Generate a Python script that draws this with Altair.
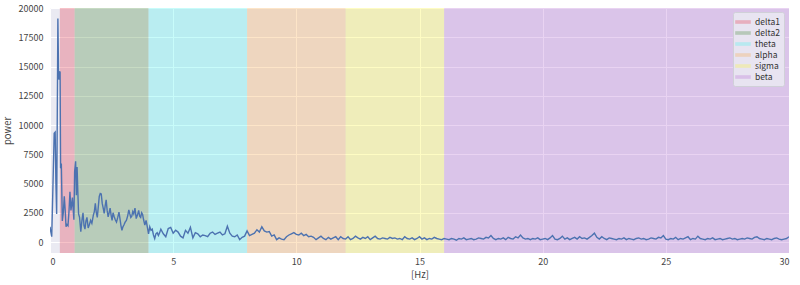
import altair as alt
import pandas as pd
import numpy as np

# ---- bands ----
band_names = ["delta1", "delta2", "theta", "alpha", "sigma", "beta"]
band_start = [0.4, 1, 4, 8, 12, 16]
band_end = [1, 4, 8, 12, 16, 30]
band_colors = ["#E6364A", "#478937", "#4AF4EF", "#F7A848", "#FDF437", "#B56CD4"]

# ---- spectrum: low frequencies (irregular sampling) ----
low_freq = [0.0, 0.03, 0.07, 0.12, 0.17, 0.21, 0.24, 0.27, 0.32, 0.35, 0.37, 0.39,
            0.41, 0.43, 0.46, 0.5, 0.54, 0.58, 0.62, 0.65, 0.69, 0.73, 0.77, 0.81,
            0.85, 0.88, 0.91, 0.94, 0.97, 1.0, 1.04, 1.07, 1.1, 1.13, 1.16]
low_power = [1300, 900, 450, 4800, 9300, 9400, 5000, 2400, 19100, 14000, 13900, 14600,
             14500, 6300, 6700, 1800, 2500, 3900, 2600, 1300, 1500, 1400, 2600, 4300,
             2700, 3200, 3800, 2800, 1900, 6000, 6900, 4000, 6400, 4300, 2400]

delta2_freq = [1.2, 1.25, 1.3, 1.34, 1.38, 1.42, 1.46, 1.5, 1.55, 1.6, 1.65, 1.7, 1.76,
               1.8, 1.84, 1.88, 1.92, 1.96, 2.0, 2.04, 2.08, 2.12, 2.16, 2.2, 2.24, 2.28,
               2.32, 2.36, 2.4, 2.44, 2.48, 2.52, 2.56, 2.6, 2.65, 2.7, 2.75, 2.8, 2.84,
               2.88, 2.92, 2.96, 3.0, 3.05, 3.1, 3.15, 3.2, 3.24, 3.28, 3.32, 3.36, 3.4,
               3.45, 3.5, 3.55, 3.6, 3.64, 3.68, 3.72, 3.76, 3.8, 3.85, 3.9, 3.95, 4.0,
               4.05, 4.1, 4.15, 4.2, 4.25, 4.3, 4.35, 4.4, 4.45]
delta2_power = [2100, 880, 1900, 2500, 1400, 1100, 1800, 2100, 1200, 1500, 1850, 1600, 2300,
                2600, 3300, 2500, 2100, 3000, 3900, 4150, 4100, 3300, 2900, 2450, 3100, 3600,
                2700, 2150, 2500, 2900, 2300, 1850, 2500, 2200, 1900, 1700, 2100, 2550, 2000,
                1400, 1000, 1300, 1450, 1700, 1850, 2200, 2750, 2400, 2100, 2200, 2600, 2400,
                2900, 2000, 2300, 2700, 2200, 2100, 2500, 2350, 1900, 1450, 1850, 1300, 700,
                1300, 1000, 1100, 600, 300, 700, 800, 550, 800]

# ---- 4.5 .. 30 Hz at 0.1 Hz ----
theta_power = [1100, 700, 450, 1150, 1250, 750, 1000, 850, 500, 350,
               1000, 750, 1250, 350, 800, 700, 450, 600, 550, 450,
               750, 850, 650, 750, 850, 600, 700, 1350, 750, 500,
               450, 600, 200, 400, 500, 950]
alpha_power = [550, 650, 750, 1050, 850, 1300, 950, 850, 900, 500,
               600, 200, 350, 250, 200, 450, 600, 700, 800, 650,
               600, 750, 550, 650, 450, 500, 400, 200, 350, 500,
               300, 200, 400, 250, 350, 450, 200, 450, 300, 250]
sigma_power = [450, 200, 300, 500, 350, 250, 400, 300, 450, 200,
               350, 500, 300, 250, 350, 300, 250, 400, 300, 350,
               250, 300, 200, 450, 300, 250, 350, 200, 300, 450,
               250, 350, 200, 300, 250, 400, 300, 250, 200, 300]
beta_power = [250, 200, 300, 250, 150, 300, 250, 350, 200, 250,
              300, 200, 250, 350, 300, 250, 400, 350, 550, 300,
              200, 300, 250, 350, 200, 400, 300, 250, 450, 350,
              600, 350, 250, 300, 200, 300, 250, 350, 200, 250,
              300, 200, 350, 550, 250, 200, 300, 500, 250, 350,
              200, 300, 400, 250, 450, 300, 350, 250, 400, 550,
              750, 400, 250, 450, 300, 200, 350, 300, 250, 200,
              300, 250, 350, 200, 300, 250, 200, 300, 350, 250,
              300, 200, 250, 350, 300, 250, 400, 350, 550, 250,
              200, 300, 250, 400, 200, 300, 250, 350, 450, 200,
              300, 250, 500, 300, 250, 200, 300, 250, 350, 200,
              250, 300, 200, 250, 300, 350, 250, 300, 200, 250,
              300, 250, 350, 300, 250, 400, 450, 300, 250, 200,
              300, 250, 200, 300, 350, 250, 200, 250, 300, 450]

high_power = theta_power + alpha_power + sigma_power + beta_power
high_freq = [round(4.5 + 0.1 * i, 1) for i in range(len(high_power))]

freq = low_freq + delta2_freq + high_freq
power = low_power + delta2_power + high_power

spec = pd.DataFrame({"freq": freq, "power": power})
bands = pd.DataFrame({"band": band_names, "start": band_start, "end": band_end})

FONT = "Noto Sans CJK JP"
W, H = 739, 245

xscale = alt.Scale(domain=[0, 30], nice=False, zero=False)
yscale = alt.Scale(domain=[-940, 20000], nice=False, zero=False)

band_layer = alt.Chart(bands).mark_rect(opacity=0.3, strokeWidth=0).encode(
    x=alt.X("start:Q", scale=xscale,
            axis=alt.Axis(values=[0, 5, 10, 15, 20, 25, 30], title="[Hz]", format="d")),
    x2="end:Q",
    color=alt.Color("band:N",
                    scale=alt.Scale(domain=band_names, range=band_colors),
                    sort=band_names,
                    legend=alt.Legend(title=None, orient="none", legendX=683, legendY=4,
                                      symbolType="M-1.3,-0.3H1.3V0.3H-1.3Z", symbolSize=144,
                                      symbolOpacity=0.3, symbolStrokeWidth=0,
                                      labelFont=FONT, labelFontSize=8.5, labelColor="#333333",
                                      labelLimit=60,
                                      fillColor="#E8E4F1", strokeColor="#D0D0D8",
                                      padding=4, rowPadding=0, cornerRadius=2,
                                      labelOffset=6)),
)

line_layer = alt.Chart(spec).mark_line(color="#4C72B0", strokeWidth=1.4, clip=True).encode(
    x=alt.X("freq:Q", scale=xscale),
    y=alt.Y("power:Q", scale=yscale,
            axis=alt.Axis(values=list(range(0, 20001, 2500)), title="power", format="d")),
)

chart = alt.layer(band_layer, line_layer).properties(
    width=W, height=H,
    autosize="none",
    padding={"left": 50, "top": 8, "right": 11, "bottom": 32},
).configure_view(
    fill="#EAEAF2", stroke=None
).configure_axis(
    grid=True, gridColor="#FFFFFF", gridWidth=1,
    domain=False, ticks=False,
    labelFont=FONT, labelFontSize=9, labelColor="#444444",
    titleFont=FONT, titleFontSize=9.5, titleFontWeight="normal", titleColor="#444444",
).configure_axisY(
    labelPadding=7, titlePadding=6
).configure_axisX(
    labelPadding=4, titlePadding=3
)

chart.save("out.html", embed_options={"renderer": "svg", "actions": False})
